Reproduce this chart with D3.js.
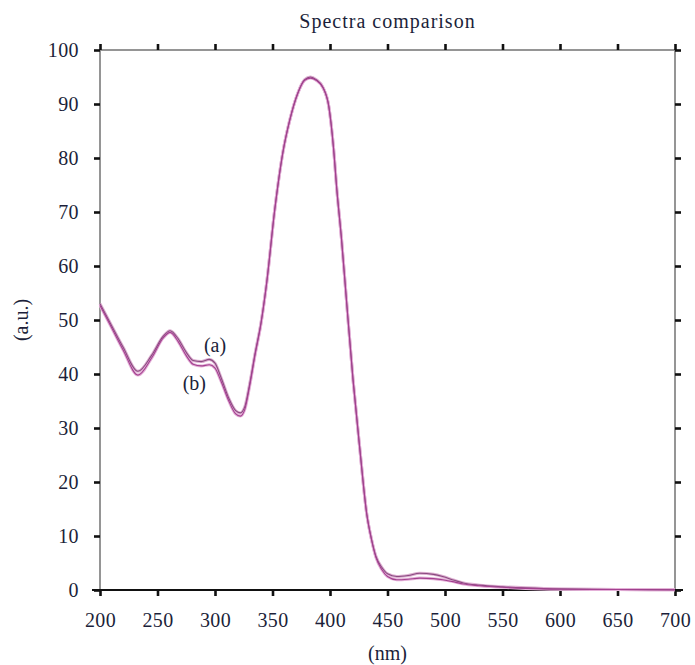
<!DOCTYPE html>
<html>
<head>
<meta charset="utf-8">
<script src="https://cdn.jsdelivr.net/npm/d3@7"></script>
<style>
  body{margin:0;background:#fff;}
  svg text{font-family:"Liberation Serif","DejaVu Serif",serif;fill:#1c1f3a;}
</style>
</head>
<body>
<svg id="chart" width="695" height="665"></svg>
<script>
// wavelengths (nm) and absorbance (a.u.)
const wlA = [200,210,220,233,245,255,261,268,275,281,288,295,300,305,312,318,322,326,330,335,340,345,352,359,365,372,378,383,388,394,399,403,406,410,414,420,426,432,436,440,445,450,458,468,478,490,498,508,516,530,550,570,600,650,700];
const valA = [53,49,45,40.5,43.5,47,48,46.5,44,42.5,42.3,42.7,42,39.5,35.5,33.2,32.8,34,38,44,49.5,57,70.5,81,87,92,94.5,95,94.5,93,89.5,82,74,65,54.5,39,26,14,9.5,6.2,4.2,3,2.5,2.7,3.1,2.9,2.5,1.8,1.3,0.9,0.6,0.4,0.2,0.1,0.05];
const wlB = [200,210,220,233,245,255,261,268,275,281,288,295,300,305,312,318,322,326,330,335,340,345,352,359,365,372,378,383,388,394,399,403,406,410,414,420,426,432,436,440,445,450,458,468,478,490,498,508,516,530,550,570,600,650,700];
const valB = [52.7,48.6,44.5,39.8,43,46.7,47.7,46,43.4,41.8,41.5,41.7,41.1,38.8,35,32.6,32.2,33.5,37.6,43.7,49.3,57,70.5,81,87,92,94.4,94.8,94.4,93,89.5,82,74,65,54.5,39,26,14,9.4,6,3.8,2.5,1.9,2,2.2,2.1,1.9,1.5,1.1,0.8,0.5,0.3,0.15,0.08,0.03];
const xTicks = [200,250,300,350,400,450,500,550,600,650,700];
const yTicks = [0,10,20,30,40,50,60,70,80,90,100];

const svg = d3.select("#chart");
const m = {l:100, r:20, t:50, b:75};
const W = 695, H = 665;
const fs = "20px";

const x = d3.scaleLinear().domain([200,700]).range([m.l, W-m.r]);
const y = d3.scaleLinear().domain([0,100]).range([H-m.b, m.t]);

// frame
svg.append("rect")
  .attr("x",x(200)).attr("y",y(100))
  .attr("width",x(700)-x(200)).attr("height",y(0)-y(100))
  .attr("fill","none").attr("stroke","#8a8a8a").attr("stroke-width",1.8);

function styleAxis(g){
  g.select(".domain").remove();
  g.selectAll(".tick line").attr("stroke","#111").attr("stroke-width",2.6);
  g.selectAll(".tick text").style("font-size",fs).style("letter-spacing","0.4px");
}

svg.append("g").attr("transform",`translate(0,${y(0)})`)
  .call(d3.axisBottom(x).tickValues(xTicks).tickSize(6).tickPadding(17))
  .call(styleAxis);
svg.append("line")
  .attr("x1",x(200)-8).attr("x2",x(700)+8).attr("y1",y(0)).attr("y2",y(0))
  .attr("stroke","#111").attr("stroke-width",2);

svg.append("g").attr("transform",`translate(0,${y(100)})`)
  .call(d3.axisTop(x).tickValues(xTicks).tickSize(6).tickFormat(""))
  .call(styleAxis);

svg.append("g").attr("transform",`translate(${x(200)},0)`)
  .call(d3.axisLeft(y).tickValues(yTicks).tickSize(6).tickPadding(15))
  .call(styleAxis);

svg.append("g").attr("transform",`translate(${x(700)},0)`)
  .call(d3.axisRight(y).tickValues(yTicks).tickSize(6).tickFormat(""))
  .call(styleAxis);

// curves
const line = d3.line().x(d=>x(d[0])).y(d=>y(d[1])).curve(d3.curveMonotoneX);
const series = [
  {pts: d3.zip(wlA,valA), halo:"#dcaed0", core:"#8a4a80"},
  {pts: d3.zip(wlB,valB), halo:"#e4b0d8", core:"#a3408f"}
];
series.forEach(s=>{
  svg.append("path").attr("d",line(s.pts)).attr("fill","none")
    .attr("stroke",s.halo).attr("stroke-width",3);
});
series.forEach(s=>{
  svg.append("path").attr("d",line(s.pts)).attr("fill","none")
    .attr("stroke",s.core).attr("stroke-width",1.1);
});

// curve labels
svg.append("text").attr("x",x(300)).attr("y",y(43.5)-3)
  .attr("text-anchor","middle").style("font-size",fs).text("(a)");
svg.append("text").attr("x",x(282)).attr("y",y(37.3)+1)
  .attr("text-anchor","middle").style("font-size",fs).text("(b)");

// titles
svg.append("text").attr("x",(x(200)+x(700))/2).attr("y",28)
  .attr("text-anchor","middle").style("font-size",fs).style("letter-spacing","1px").text("Spectra comparison");
svg.append("text").attr("x",(x(200)+x(700))/2).attr("y",660)
  .attr("text-anchor","middle").style("font-size",fs).text("(nm)");
svg.append("text").attr("transform",`translate(28,${(y(0)+y(100))/2}) rotate(-90)`)
  .attr("text-anchor","middle").style("font-size",fs).text("(a.u.)");
</script>
</body>
</html>
